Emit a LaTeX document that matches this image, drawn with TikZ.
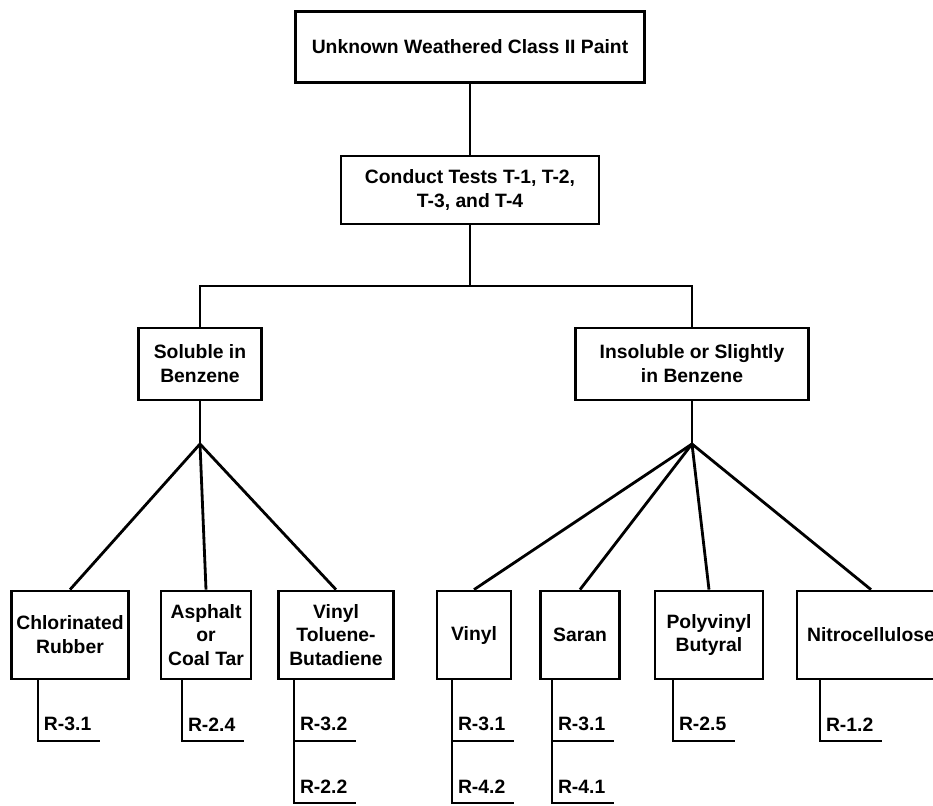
\documentclass[tikz,border=0pt]{standalone}
\usepackage{fontspec}
\setmainfont{Liberation Sans}
\newcommand{\bxfont}{\bfseries\fontsize{11}{13.6}\selectfont}

\begin{document}
\begin{tikzpicture}[x=0.02cm,y=-0.02cm,line width=1.6pt,
    box/.style={draw,align=center,inner sep=0pt,font=\bxfont},
    lowbox/.style={box,minimum height=1.76cm},
    rlab/.style={anchor=south west,outer sep=0pt,inner xsep=0.12cm,
      inner ysep=0.2cm,text width=1cm,align=left,font=\bxfont}]
  \useasboundingbox (0,0) rectangle (933,805);
  % upper part
  \node[box,minimum width=6.98cm,minimum height=1.42cm] (paint) at (470,47) {Unknown Weathered Class II Paint};
  \node[box,minimum width=5.16cm,minimum height=1.36cm] (tests) at (470,190) {Conduct Tests T-1, T-2,\\T-3, and T-4};
  \node[box,minimum width=2.46cm,minimum height=1.44cm] (sol) at (200,364) {Soluble in\\Benzene};
  \node[box,minimum width=4.66cm,minimum height=1.44cm] (insol) at (692,364) {Insoluble or Slightly\\in Benzene};
  \coordinate (bar) at (470,286);
  \coordinate (forkL) at (200,444);
  \coordinate (forkR) at (692,444);
  \draw (paint) -- (tests);
  \draw (tests) -- (bar);
  \draw (sol.north) -- (sol.north |- bar) -| (insol.north);
  \draw (sol) -- (forkL);
  \draw (insol) -- (forkR);
  % resin types
  \node[lowbox,minimum width=2.34cm] (chl) at (70,635) {Chlorinated\\Rubber};
  \node[lowbox,minimum width=1.80cm] (asp) at (206,635) {Asphalt\\or\\Coal Tar};
  \node[lowbox,minimum width=2.30cm] (vtb) at (336,635) {Vinyl\\Toluene-\\Butadiene};
  \node[lowbox,minimum width=1.48cm] (vin) at (474,635) {Vinyl};
  \node[lowbox,minimum width=1.58cm] (sar) at (580,635) {Saran};
  \node[lowbox,minimum width=2.16cm] (pvb) at (709,635) {Polyvinyl\\Butyral};
  \node[lowbox,minimum width=2.96cm] (nit) at (871,635) {Nitrocellulose};
  \foreach \n in {chl,asp,vtb} \draw (forkL) -- (\n.north);
  \foreach \n in {vin,sar,pvb,nit} \draw (forkR) -- (\n.north);
  % references
  \node[rlab] (chlr1) at (38,741) {R-3.1};
  \node[rlab] (aspr1) at (182,741) {R-2.4};
  \node[rlab] (vtbr1) at (294,741) {R-3.2};
  \node[rlab] (vtbr2) at (294,803) {R-2.2};
  \node[rlab] (vinr1) at (452,741) {R-3.1};
  \node[rlab] (vinr2) at (452,803) {R-4.2};
  \node[rlab] (sarr1) at (552,741) {R-3.1};
  \node[rlab] (sarr2) at (552,803) {R-4.1};
  \node[rlab] (pvbr1) at (673,741) {R-2.5};
  \node[rlab] (nitr1) at (820,741) {R-1.2};
  \foreach \n in {chl,asp,vtb,vin,sar,pvb,nit}
    \draw (\n.south -| \n r1.south west) |- (\n r1.south east);
  \foreach \n in {vtb,vin,sar}
    \draw (\n r1.south west) |- (\n r2.south east);
\end{tikzpicture}
\end{document}
